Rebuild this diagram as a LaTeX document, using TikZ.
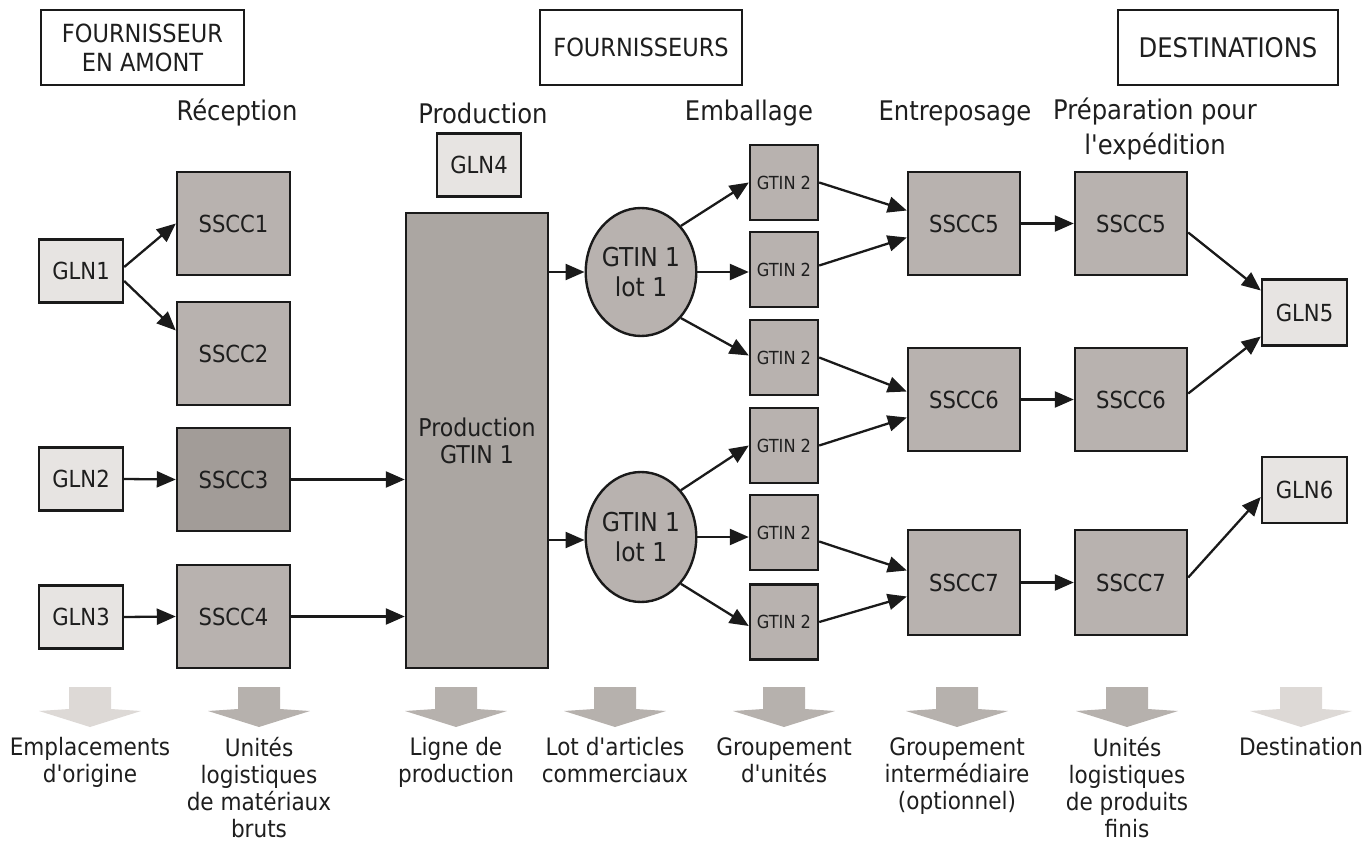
\documentclass[tikz,border=0pt]{standalone}
\usepackage{fontspec}
\setmainfont{DejaVu Sans Condensed}[Ligatures=TeXOff]
\usetikzlibrary{arrows.meta,shapes.geometric,calc}
\definecolor{boxfill}{HTML}{B8B2AF}
\definecolor{darkfill}{HTML}{A29C98}
\definecolor{prodfill}{HTML}{ABA6A2}
\definecolor{glnfill}{HTML}{E7E4E2}
\definecolor{ink}{HTML}{1A1A1A}
\definecolor{txt}{HTML}{1E1E1E}
\definecolor{bigarrow}{HTML}{B6B1AD}
\definecolor{bigarrowlight}{HTML}{DDD9D6}
\begin{document}
\begin{tikzpicture}[x=1pt,y=-1pt,
  every node/.style={text=txt},
  hdrbox/.style={draw=ink, line width=2pt, fill=white, minimum width=203pt, minimum height=75pt, align=center, inner sep=0pt, font=\fontsize{25}{29}\selectfont},
  phase/.style={font=\fontsize{27}{35}\selectfont, align=center, inner sep=0pt},
  sscc/.style={draw=ink, line width=2.4pt, fill=boxfill, minimum width=113pt, minimum height=103pt, inner sep=0pt, font=\fontsize{23.5}{28}\selectfont},
  gln/.style={draw=ink, line width=2.4pt, fill=glnfill, minimum width=84pt, minimum height=63pt, inner sep=0pt, font=\fontsize{23.5}{28}\selectfont},
  gtinbox/.style={draw=ink, line width=2.4pt, fill=boxfill, minimum width=68pt, minimum height=75pt, inner sep=0pt, font=\fontsize{18}{22}\selectfont},
  lotell/.style={ellipse, draw=ink, line width=2.4pt, fill=boxfill, minimum width=108pt, minimum height=128pt, inner sep=0pt, align=center, font=\fontsize{26}{30}\selectfont},
  arr/.style={draw=ink, line width=2.3pt, -{Triangle[length=19pt,width=16pt]}},
  botlbl/.style={anchor=north, align=center, inner sep=0pt, font=\fontsize{24}{27}\selectfont}
]
\useasboundingbox (0,0) rectangle (1370,842);

% header boxes
\node[hdrbox] (h1) at (142.5,47.5) {FOURNISSEUR\\EN AMONT};
\node[hdrbox, minimum width=202pt] (h2) at (641,47.5) {FOURNISSEURS};
\node[hdrbox, minimum width=220pt, font=\fontsize{27}{31}\selectfont] (h3) at (1228,47.5) {DESTINATIONS};

% phase titles
\node[phase] (t1) at (237,113) {Réception};
\node[phase] (t2) at (483,113) {Production};
\node[phase] (t3) at (749,113) {Emballage};
\node[phase] (t4) at (955,113) {Entreposage};
\node[phase, anchor=north] (t5) at (1155,98) {Préparation pour\\l'expédition};

% left column
\node[gln] (gln1) at (81,271) {GLN1};
\node[gln] (gln2) at (81,479) {GLN2};
\node[gln] (gln3) at (81,617) {GLN3};
\node[sscc] (s1) at (233.5,223.5) {SSCC1};
\node[sscc] (s2) at (233.5,353.5) {SSCC2};
\node[sscc, fill=darkfill] (s3) at (233.5,479.5) {SSCC3};
\node[sscc] (s4) at (233.5,616.5) {SSCC4};

% production
\node[gln] (gln4) at (479,165) {GLN4};
\node[sscc, fill=prodfill, minimum width=142pt, minimum height=455pt, align=center, font=\fontsize{24.5}{27}\selectfont] (prod) at (477,440.5) {Production\\GTIN 1};

% lots
\node[lotell] (l1) at (641,272) {GTIN 1\\lot 1};
\node[lotell, minimum height=130pt] (l2) at (641,537) {GTIN 1\\lot 1};

% GTIN2 boxes
\node[gtinbox] (g1) at (784,182.5) {GTIN 2};
\node[gtinbox] (g2) at (784,269.5) {GTIN 2};
\node[gtinbox] (g3) at (784,357.5) {GTIN 2};
\node[gtinbox] (g4) at (784,445.5) {GTIN 2};
\node[gtinbox] (g5) at (784,532.5) {GTIN 2};
\node[gtinbox] (g6) at (784,622) {GTIN 2};

% storage
\node[sscc, minimum width=112pt] (e5) at (964,223.5) {SSCC5};
\node[sscc, minimum width=112pt] (e6) at (964,399.5) {SSCC6};
\node[sscc, minimum width=112pt, minimum height=105pt] (e7) at (964,582.5) {SSCC7};
\node[sscc, minimum width=112pt] (p5) at (1131,223.5) {SSCC5};
\node[sscc, minimum width=112pt] (p6) at (1131,399.5) {SSCC6};
\node[sscc, minimum width=112pt, minimum height=105pt] (p7) at (1131,582.5) {SSCC7};

% destinations
\node[gln, minimum width=85pt, minimum height=66pt] (gln5) at (1304.5,312.5) {GLN5};
\node[gln, minimum width=85pt, minimum height=66pt] (gln6) at (1304.5,490) {GLN6};

% connectors
\draw[arr] ($(gln1.east)+(0,-4)$) -- (s1.west);
\draw[arr] ($(gln1.east)+(0,10)$) -- ($(s2.west)+(0,-23)$);
\draw[arr] (gln2.east) -- (s3.west);
\draw[arr] (gln3.east) -- (s4.west);
\draw[arr] (s3.east) -- (s3.east -| prod.west);
\draw[arr] (s4.east) -- (s4.east -| prod.west);
\draw[arr] (l1.west -| prod.east) -- (l1.west);
\draw[arr] ($(l2.west -| prod.east)+(0,3)$) -- ($(l2.west)+(0,3)$);

\draw[arr] (l1.north east) -- (g1.west);
\draw[arr] (l1.east) -- (l1.east -| g2.west);
\draw[arr] (l1.south east) -- ($(g3.west)+(0,-2)$);
\draw[arr] (l2.north east) -- (g4.west);
\draw[arr] (l2.east) -- (l2.east -| g5.west);
\draw[arr] (l2.south east) -- ($(g6.west)+(0,4)$);

\draw[arr] (g1.east) -- ($(e5.west)+(0,-13)$);
\draw[arr] ($(g2.east)+(0,-4)$) -- ($(e5.west)+(0,14)$);
\draw[arr] (g3.east) -- ($(e6.west)+(0,-8)$);
\draw[arr] (g4.east) -- ($(e6.west)+(0,18)$);
\draw[arr] ($(g5.east)+(0,9)$) -- ($(e7.west)+(0,-12)$);
\draw[arr] (g6.east) -- ($(e7.west)+(0,14)$);

\draw[arr] (e5.east) -- (e5.east -| p5.west);
\draw[arr] (e6.east) -- (e6.east -| p6.west);
\draw[arr] (e7.east) -- (e7.east -| p7.west);

\draw[arr] ($(p5.east)+(0,9)$) -- ($(gln5.west)+(0,-22)$);
\draw[arr] ($(p6.east)+(0,-6)$) -- ($(gln5.west)+(0,24)$);
\draw[arr] ($(p7.east)+(0,-5)$) -- ($(gln6.west)+(0,7)$);

% bottom block arrows
\foreach \c/\col in {90/bigarrowlight,259/bigarrow,456/bigarrow,615/bigarrow,784/bigarrow,957/bigarrow,1127/bigarrow,1301/bigarrowlight}{
  \fill[\col] (\c-21,687) -- (\c+21,687) -- (\c+21,709) -- (\c+51,711) -- (\c,727) -- (\c-51,711) -- (\c-21,709) -- cycle;
}

% bottom labels
\node[botlbl] (b1) at (90,737) {Emplacements\\d'origine};
\node[botlbl] (b2) at (259,737) {Unités\\logistiques\\de matériaux\\bruts};
\node[botlbl] (b3) at (456,737) {Ligne de\\production};
\node[botlbl] (b4) at (615,737) {Lot d'articles\\commerciaux};
\node[botlbl] (b5) at (784,737) {Groupement\\d'unités};
\node[botlbl] (b6) at (957,737) {Groupement\\intermédiaire\\(optionnel)};
\node[botlbl] (b7) at (1127,737) {Unités\\logistiques\\de produits\\finis};
\node[botlbl] (b8) at (1301,737) {Destination};
\end{tikzpicture}
\end{document}
